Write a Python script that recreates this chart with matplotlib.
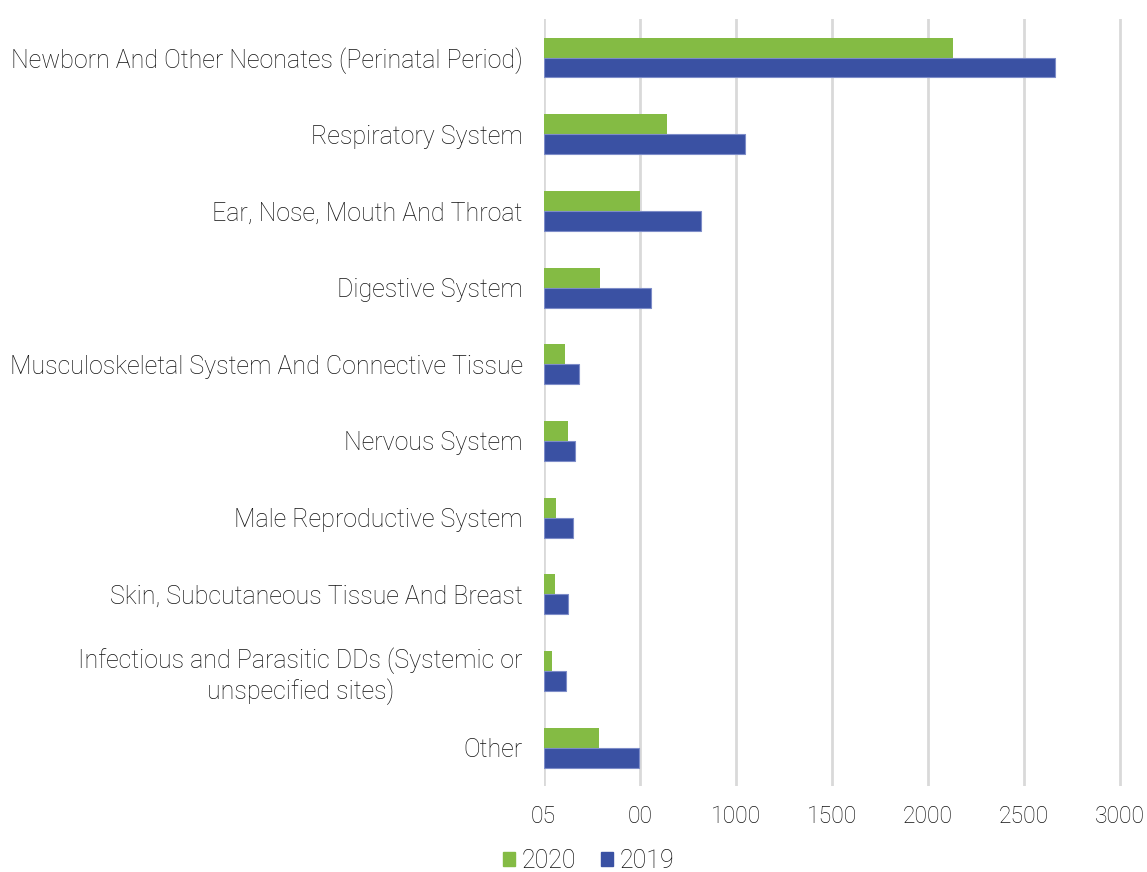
import matplotlib.pyplot as plt
from matplotlib.patches import Patch

plt.rcParams['font.family'] = ['Roboto', 'DejaVu Sans']
plt.rcParams['font.weight'] = 'light'

categories = ['Newborn And Other Neonates (Perinatal Period)', 'Respiratory System',
              'Ear, Nose, Mouth And Throat', 'Digestive System',
              'Musculoskeletal System And Connective Tissue', 'Nervous System',
              'Male Reproductive System', 'Skin, Subcutaneous Tissue And Breast',
              'Infectious and Parasitic DDs (Systemic or\nunspecified sites)', 'Other']
v2020 = [2130, 641, 503, 295, 111, 128, 64, 61, 45, 290]
v2019 = [2663, 1050, 819, 560, 184, 161, 153, 125, 115, 497]
xticks = [0, 500, 1000, 1500, 2000, 2500, 3000]
xticklabels = ['05', '00', '1000', '1500', '2000', '2500', '3000']

green = '#84bb44'
blue = '#3a51a3'
txt = '#111111'

fig = plt.figure(figsize=(11.47, 8.72), dpi=100)
ax = fig.add_axes([0.474, 0.0986, 0.505, 0.8794])

y = list(range(len(categories)))
h = 0.26
ax.barh([i - h / 2 for i in y], v2020, height=h, color=green, zorder=3)
ax.barh([i + h / 2 for i in y], v2019, height=h, color=blue, edgecolor='#7d8cc8',
        linewidth=0.8, zorder=3)

ax.set_ylim(9.5, -0.5)
ax.set_xlim(0, 3015)
ax.set_yticks(y)
ax.set_yticklabels(categories, fontsize=18, color=txt)
ax.set_xticks(xticks)
ax.set_xticklabels(xticklabels, fontsize=16.5, color=txt)
ax.tick_params(length=0, axis='y', pad=15)
ax.tick_params(length=0, axis='x', pad=14)
for lbl in ax.get_yticklabels():
    lbl.set_horizontalalignment('right')
    lbl.set_multialignment('center')
ax.grid(axis='x', color='#d9d9d9', linewidth=2, zorder=0)
for s in ax.spines.values():
    s.set_visible(False)

handles = [Patch(color=green, label='2020'), Patch(color=blue, label='2019')]
fig.legend(handles=handles, loc='lower center', bbox_to_anchor=(0.513, -0.027), ncol=2,
           frameon=False, fontsize=18, labelcolor=txt, handlelength=0.5, handleheight=0.5,
           handletextpad=0.25, columnspacing=1.0)

fig.savefig('out.png', dpi=100)
